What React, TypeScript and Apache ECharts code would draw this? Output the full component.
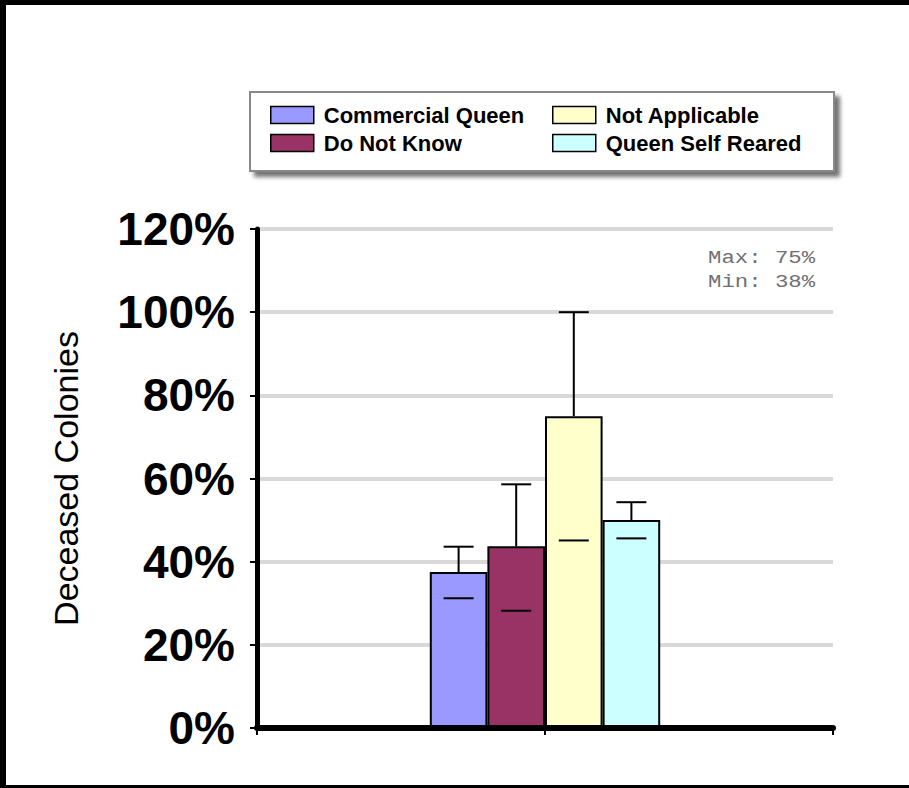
import React, { useEffect, useRef } from "react";
import * as echarts from "echarts";

const categories = [""];
const seriesNames = ["Commercial Queen", "Do Not Know", "Not Applicable", "Queen Self Reared"];
const seriesColors = ["#9999FF", "#993366", "#FFFFCC", "#CCFFFF"];
const values = [0.375, 0.437, 0.75, 0.5];
const highs = [0.436, 0.586, 1.0, 0.543];
const lows = [0.312, 0.282, 0.451, 0.456];
const yTicks = [0, 0.2, 0.4, 0.6, 0.8, 1.0, 1.2];

const FONT = "'Liberation Sans', Arial, sans-serif";
const BAR_CATEGORY_GAP = 0.6;

export default function App() {
  const ref = useRef<HTMLDivElement>(null);
  useEffect(() => {
    document.body.style.margin = "0";
    const chart = echarts.init(ref.current!, undefined, { renderer: "svg" });
    const n = seriesNames.length;
    const maxV = Math.max(...values);
    const minV = Math.min(...values);

    const barSeries = seriesNames.map((name, i) => ({
      name,
      type: "bar",
      xAxisIndex: 0,
      data: [values[i]],
      barGap: "0%",
      barCategoryGap: `${BAR_CATEGORY_GAP * 100}%`,
      itemStyle: { color: seriesColors[i], borderColor: "#000", borderWidth: 2 },
      z: 2,
    }));

    const errData = seriesNames.map((_, i) => [0, i, values[i], highs[i], lows[i]]);

    const errSeries = {
      type: "custom",
      xAxisIndex: 0,
      z: 5,
      silent: true,
      encode: { x: 0, y: [2, 3, 4] },
      data: errData,
      renderItem: (params: any, api: any) => {
        const idx = api.value(1);
        const band = api.size([1, 0])[0];
        const w = (band * (1 - BAR_CATEGORY_GAP)) / n;
        const c = api.coord([api.value(0), api.value(2)]);
        const cx = c[0] + (idx - (n - 1) / 2) * w;
        const top = c[1];
        const hi = api.coord([api.value(0), api.value(3)])[1];
        const lo = api.coord([api.value(0), api.value(4)])[1];
        const cap = 15;
        const st = { stroke: "#000", lineWidth: 2 };
        return {
          type: "group",
          children: [
            { type: "line", shape: { x1: cx, y1: top, x2: cx, y2: hi }, style: st },
            { type: "line", shape: { x1: cx - cap, y1: hi, x2: cx + cap, y2: hi }, style: st },
            { type: "line", shape: { x1: cx - cap, y1: lo, x2: cx + cap, y2: lo }, style: st },
          ],
        };
      },
    };

    const legendCommon = {
      orient: "vertical",
      itemWidth: 43,
      itemHeight: 17,
      itemGap: 6,
      icon: "rect",
      selectedMode: false,
      textStyle: { fontFamily: FONT, fontSize: 22, fontWeight: "bold", color: "#000", padding: [0, 0, 0, 5] },
      itemStyle: { borderColor: "#000", borderWidth: 1.5 },
    };

    chart.setOption({
      animation: false,
      backgroundColor: "#fff",
      grid: { left: 257, right: 76, top: 229, bottom: 60, containLabel: false },
      legend: [
        { ...legendCommon, left: 265, top: 99, data: seriesNames.slice(0, 2) },
        { ...legendCommon, left: 547, top: 99, data: seriesNames.slice(2, 4) },
      ],
      xAxis: [
        {
          type: "category",
          data: categories,
          axisLine: { show: true, lineStyle: { color: "#000", width: 6 } },
          axisTick: { show: false },
          axisLabel: { show: false },
          splitLine: { show: false },
          z: 3,
        },
        {
          type: "value",
          position: "bottom",
          min: 0,
          max: 2,
          interval: 1,
          axisLine: { show: false },
          axisTick: { show: true, length: 7, lineStyle: { color: "#000", width: 2 } },
          axisLabel: { show: false },
          splitLine: { show: false },
        },
      ],
      yAxis: {
        type: "value",
        min: yTicks[0],
        max: yTicks[yTicks.length - 1],
        interval: 0.2,
        name: "Deceased Colonies",
        nameLocation: "middle",
        nameRotate: 90,
        nameGap: 191,
        nameTextStyle: { fontFamily: FONT, fontSize: 34, color: "#000", verticalAlign: "middle" },
        axisLine: { show: true, lineStyle: { color: "#000", width: 5 } },
        axisTick: { show: true, length: 7, lineStyle: { color: "#000", width: 2 } },
        axisLabel: {
          fontFamily: FONT,
          fontSize: 46,
          fontWeight: "bold",
          color: "#000",
          margin: 22,
          formatter: (v: number) => `${Math.round(v * 100)}%`,
        },
        splitLine: { show: true, lineStyle: { color: "#d9d9d9", width: 4 } },
      },
      graphic: [
        {
          type: "rect",
          shape: { x: 250, y: 92, width: 584, height: 79 },
          style: {
            fill: "#fff",
            stroke: "#888",
            lineWidth: 2,
            shadowBlur: 4,
            shadowOffsetX: 5,
            shadowOffsetY: 5,
            shadowColor: "rgba(0,0,0,0.55)",
          },
          z: -1,
        },
        {
          type: "text",
          x: 708,
          y: 246,
          scaleX: 1.24,
          style: {
            text: `Max: ${Math.round(maxV * 100)}%\nMin: ${Math.round(minV * 100)}%`,
            fontFamily: "'Courier New', 'Liberation Mono', monospace",
            fontSize: 18,
            lineHeight: 24,
            fill: "#707070",
            align: "left",
            verticalAlign: "top",
          },
        },
        { type: "rect", shape: { x: 0, y: 0, width: 909, height: 5 }, style: { fill: "#000" } },
        { type: "rect", shape: { x: 0, y: 0, width: 6, height: 788 }, style: { fill: "#000" } },
        { type: "rect", shape: { x: 0, y: 785, width: 909, height: 3 }, style: { fill: "#000" } },
      ],
      series: [...barSeries, errSeries],
    });
    return () => chart.dispose();
  }, []);
  return <div ref={ref} style={{ position: "absolute", left: 0, top: 0, width: 909, height: 788 }} />;
}
